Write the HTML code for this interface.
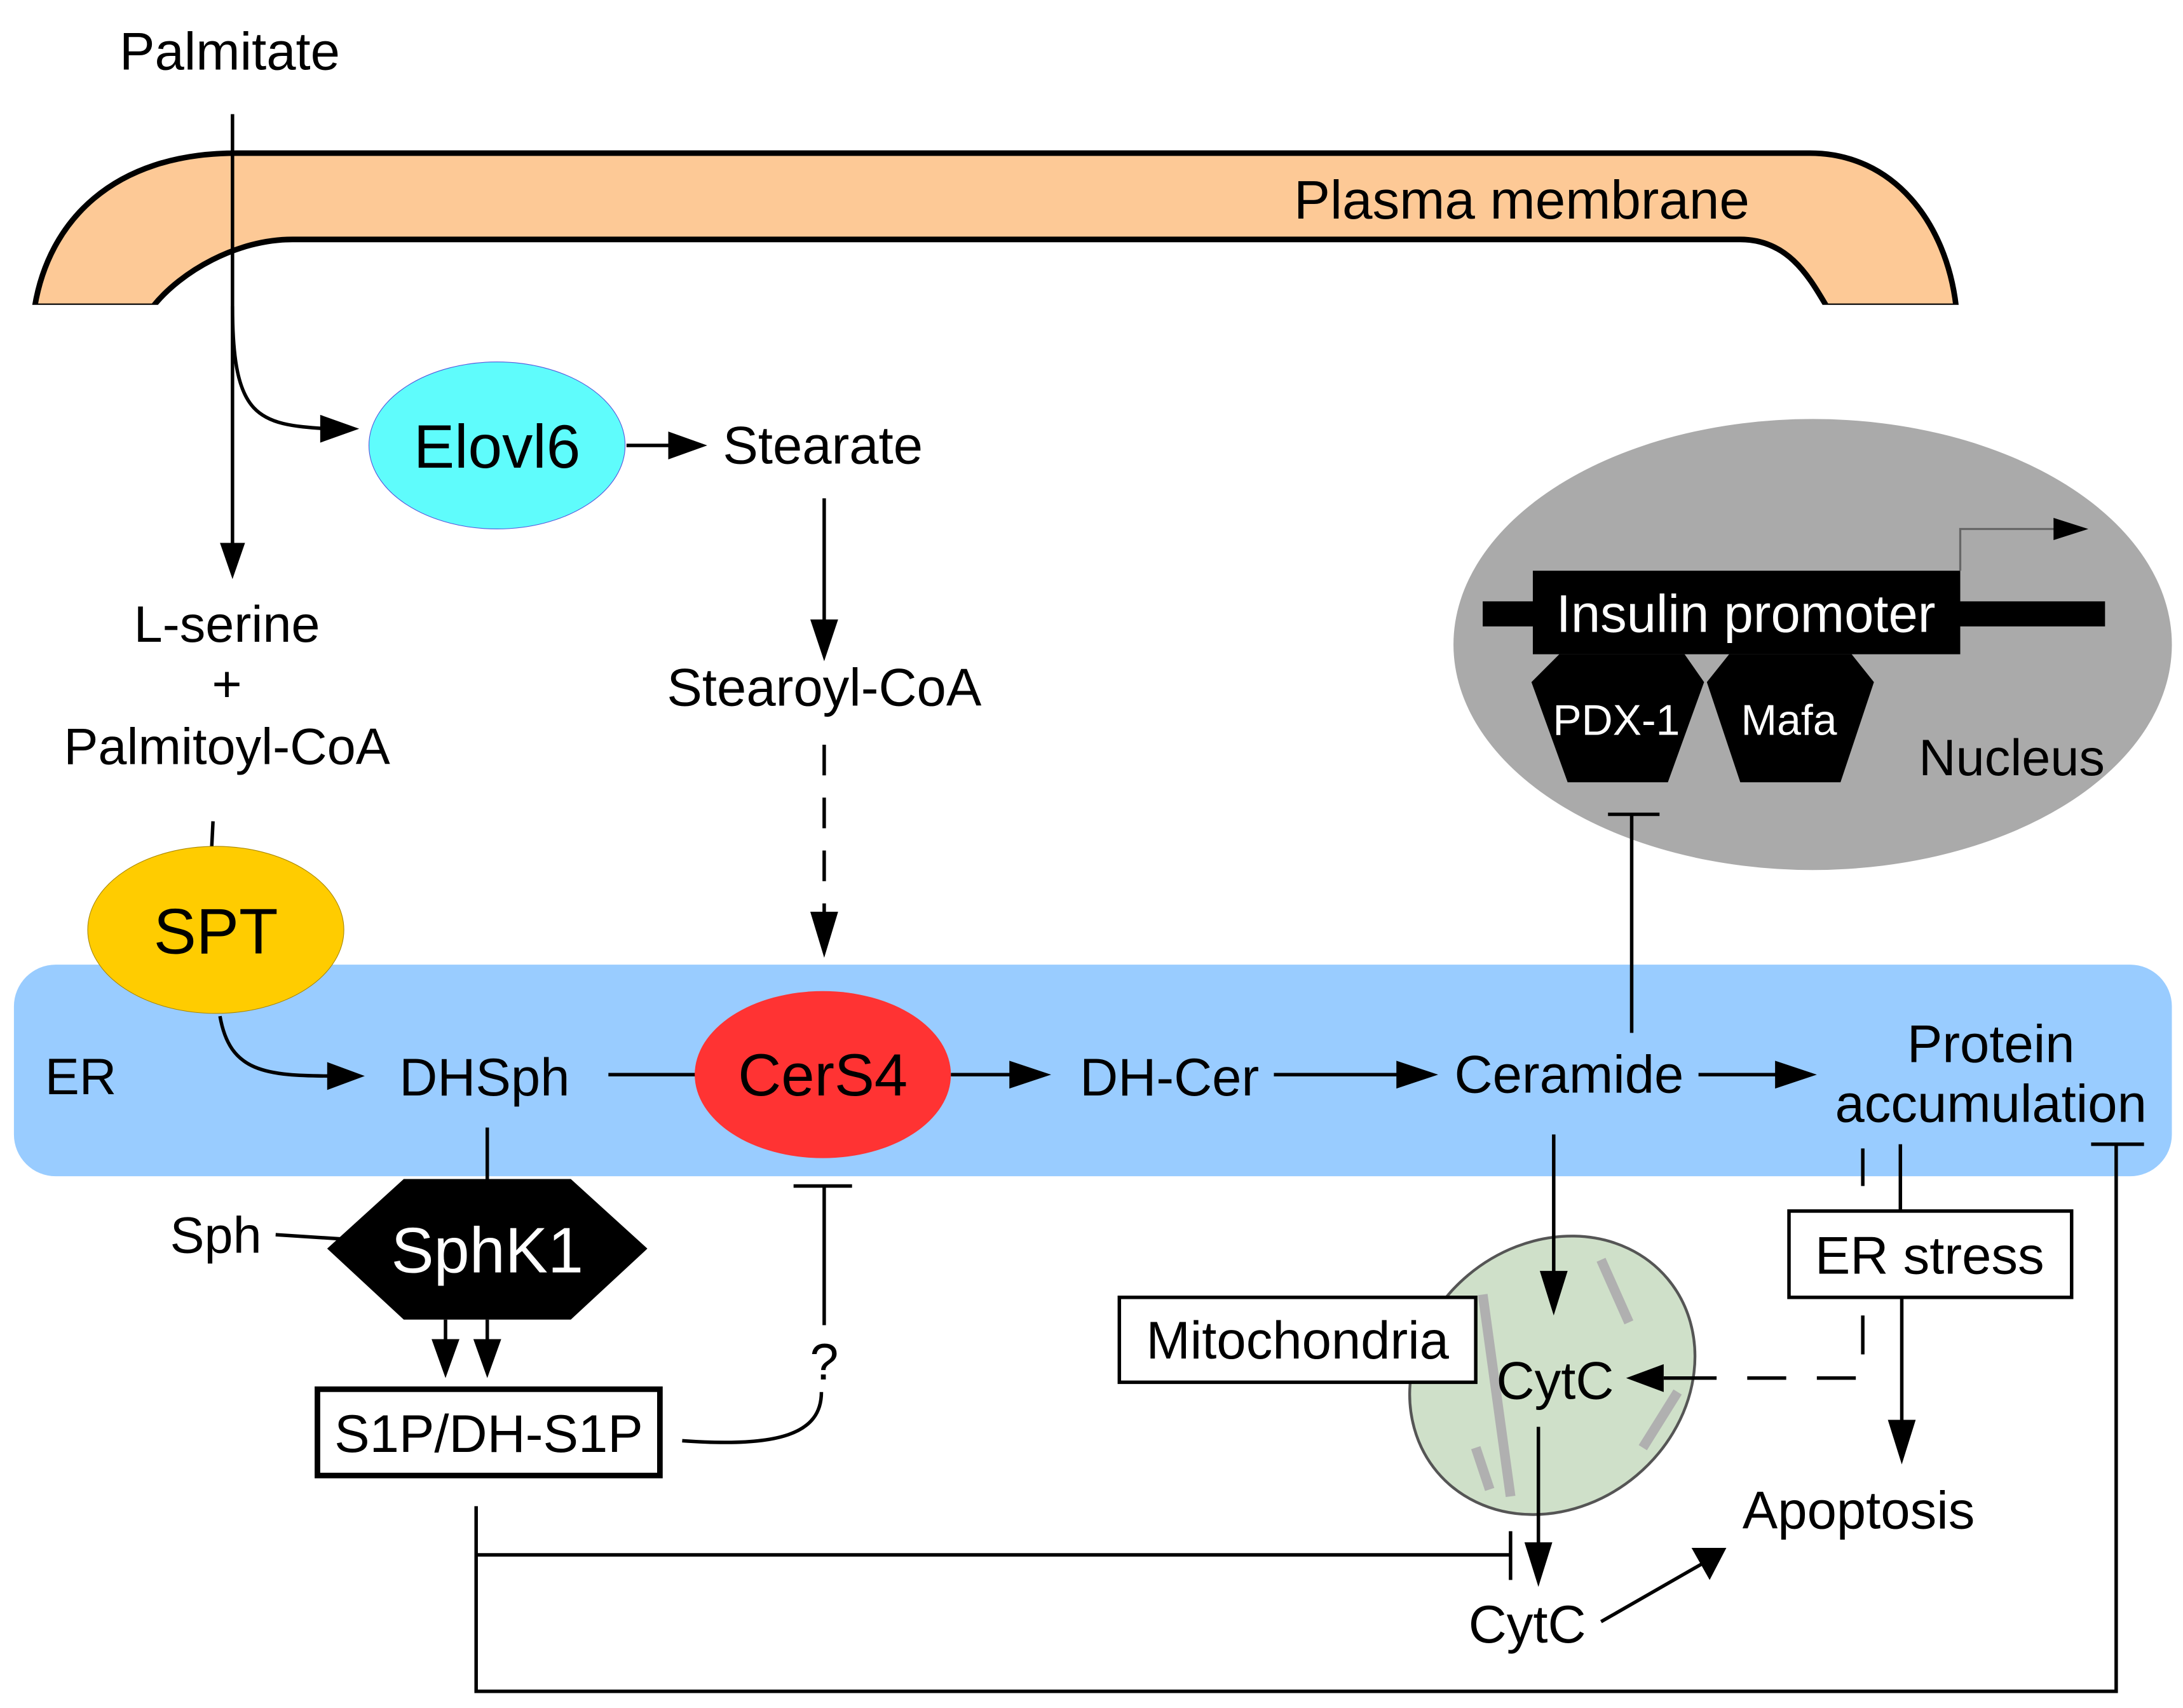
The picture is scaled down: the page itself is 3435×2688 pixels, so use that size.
<!DOCTYPE html>
<html><head><meta charset="utf-8"><style>
html,body{margin:0;padding:0;background:#fff;}
svg{display:block;}
text{font-family:"Liberation Sans",Arial,sans-serif;fill:#000;}
</style></head><body>
<svg width="3435" height="2688" viewBox="0 0 1568 1227" xmlns="http://www.w3.org/2000/svg">
<style>.l{stroke:#000;stroke-width:2.5;fill:none}</style>
<!-- plasma membrane -->
<path d="M25,220 C35,160 80,110 170,110 L1300,110 C1360,110 1398,160 1405,220 L1312,220 C1300,200 1285,172 1250,172 L210,172 C170,172 130,195 110,220 Z" fill="#fdc996" stroke="#000" stroke-width="4"/>
<rect x="20" y="219" width="1400" height="6" fill="#fff"/>
<text x="1093" y="157" font-size="39" text-anchor="middle">Plasma membrane</text>
<text x="165" y="50" font-size="38" text-anchor="middle">Palmitate</text>
<!-- ER -->
<rect x="10" y="693" width="1550" height="152" rx="30" fill="#99ccff"/>
<text x="58" y="786" font-size="37" text-anchor="middle">ER</text>
<!-- Nucleus -->
<ellipse cx="1302" cy="463" rx="258" ry="162" fill="#aaaaaa"/>
<rect x="1065" y="432" width="447" height="18" fill="#000"/>
<rect x="1101" y="410" width="307" height="60" fill="#000"/>
<text x="1254" y="454" font-size="38" text-anchor="middle" style="fill:#fff">Insulin promoter</text>
<path d="M1408,410 L1408,380 L1480,380" stroke="#666" stroke-width="1.5" fill="none"/>
<polygon points="1475,372 1500,380 1475,388" fill="#000"/>
<polygon points="1120,470 1210,470 1224,490 1198,562 1126,562 1100,490" fill="#000"/>
<polygon points="1242,470 1330,470 1346,490 1322,562 1250,562 1226,490" fill="#000"/>
<text x="1161" y="528" font-size="31" text-anchor="middle" style="fill:#fff">PDX-1</text>
<text x="1285" y="528" font-size="31" text-anchor="middle" style="fill:#fff">Mafa</text>
<text x="1445" y="557" font-size="37" text-anchor="middle">Nucleus</text>
<!-- palmitate path -->
<path class="l" d="M167,82 L167,395"/>
<polygon points="158,390 176,390 167,416" fill="#000"/>
<path class="l" d="M167,220 C167,300 185,305 235,308"/>
<polygon points="230,298 258,308 230,318" fill="#000"/>
<ellipse cx="357" cy="320" rx="92" ry="60" fill="#5ffcfc" stroke="#55d" stroke-width="0.5"/>
<text x="357" y="336" font-size="44" text-anchor="middle">Elovl6</text>
<path class="l" d="M450,320 L485,320"/>
<polygon points="480,310 508,320 480,330" fill="#000"/>
<text x="591" y="333" font-size="38" text-anchor="middle">Stearate</text>
<path class="l" d="M592,358 L592,450"/>
<polygon points="582,445 602,445 592,475" fill="#000"/>
<text x="592" y="507" font-size="38" text-anchor="middle">Stearoyl-CoA</text>
<path class="l" d="M592,535 L592,660" stroke-dasharray="22,16"/>
<polygon points="582,655 602,655 592,688" fill="#000"/>
<text x="163" y="461" font-size="37" text-anchor="middle">L-serine</text>
<text x="163" y="504" font-size="37" text-anchor="middle">+</text>
<text x="163" y="549" font-size="37" text-anchor="middle">Palmitoyl-CoA</text>
<path class="l" d="M153,590 L152,610"/>
<ellipse cx="155" cy="668" rx="92" ry="60" fill="#ffcc00" stroke="#a80" stroke-width="0.5"/>
<text x="155" y="685" font-size="46" text-anchor="middle">SPT</text>
<path class="l" d="M158,730 C165,770 190,773 240,773"/>
<polygon points="235,763 262,773 235,783" fill="#000"/>
<text x="348" y="787" font-size="38" text-anchor="middle">DHSph</text>
<path class="l" d="M437,772 L500,772"/>
<ellipse cx="591" cy="772" rx="92" ry="60" fill="#ff3333"/>
<text x="591" y="787" font-size="43" text-anchor="middle">CerS4</text>
<path class="l" d="M683,772 L730,772"/>
<polygon points="725,762 755,772 725,782" fill="#000"/>
<text x="840" y="787" font-size="38" text-anchor="middle">DH-Cer</text>
<path class="l" d="M915,772 L1008,772"/>
<polygon points="1003,762 1033,772 1003,782" fill="#000"/>
<text x="1127" y="785" font-size="38" text-anchor="middle">Ceramide</text>
<path class="l" d="M1220,772 L1280,772"/>
<polygon points="1275,762 1305,772 1275,782" fill="#000"/>
<text x="1430" y="763" font-size="38" text-anchor="middle">Protein</text>
<text x="1430" y="806" font-size="38" text-anchor="middle">accumulation</text>
<path class="l" d="M1172,742 L1172,585 M1155,585 L1192,585"/>
<!-- SphK1 -->
<path class="l" d="M350,810 L350,847"/>
<polygon points="235,897 290,847 410,847 465,897 410,948 290,948" fill="#000"/>
<text x="350" y="914" font-size="46" text-anchor="middle" style="fill:#fff">SphK1</text>
<text x="155" y="900" font-size="37" text-anchor="middle">Sph</text>
<path class="l" d="M198,887 L245,890"/>
<path class="l" d="M320,948 L320,965 M350,948 L350,965"/>
<polygon points="310,962 330,962 320,990" fill="#000"/>
<polygon points="340,962 360,962 350,990" fill="#000"/>
<rect x="228" y="998" width="246" height="62" fill="#fff" stroke="#000" stroke-width="4"/>
<text x="351" y="1043" font-size="38" text-anchor="middle">S1P/DH-S1P</text>
<path class="l" d="M490,1035 C560,1040 590,1030 590,1000"/>
<text x="592" y="991" font-size="37" text-anchor="middle">?</text>
<path class="l" d="M592,952 L592,852 M570,852 L612,852"/>
<!-- Mitochondria -->
<ellipse cx="1115" cy="988" rx="108" ry="94" transform="rotate(-40 1115 988)" fill="#cfe0c9" stroke="#555" stroke-width="2"/>
<path d="M1065,930 L1085,1075 M1150,905 L1170,950 M1180,1040 L1205,1000 M1060,1040 L1070,1070" stroke="#b0b0b0" stroke-width="7" fill="none"/>
<rect x="804" y="932" width="256" height="61" fill="#fff" stroke="#000" stroke-width="2.5"/>
<text x="932" y="976" font-size="38" text-anchor="middle">Mitochondria</text>
<text x="1117" y="1005" font-size="38" text-anchor="middle">CytC</text>
<path class="l" d="M1116,815 L1116,918"/>
<polygon points="1106,913 1126,913 1116,945" fill="#000"/>
<!-- ER stress -->
<rect x="1285" y="870" width="203" height="62" fill="#fff" stroke="#000" stroke-width="2.5"/>
<text x="1386" y="915" font-size="38" text-anchor="middle">ER stress</text>
<path class="l" d="M1338,825 L1338,852 M1365,822 L1365,870"/>
<path class="l" d="M1338,945 L1338,990 L1210,990" stroke-dasharray="28,22"/>
<polygon points="1195,980 1195,1000 1168,990" fill="#000"/>
<path class="l" d="M1195,990 L1215,990"/>
<path class="l" d="M1366,932 L1366,1025"/>
<polygon points="1356,1020 1376,1020 1366,1052" fill="#000"/>
<text x="1335" y="1098" font-size="38" text-anchor="middle">Apoptosis</text>
<path class="l" d="M1105,1025 L1105,1112"/>
<polygon points="1095,1108 1115,1108 1105,1140" fill="#000"/>
<text x="1097" y="1180" font-size="38" text-anchor="middle">CytC</text>
<path class="l" d="M1150,1165 L1225,1122"/>
<polygon points="1215,1112 1240,1112 1228,1135" fill="#000"/>
<path class="l" d="M342,1082 L342,1215 L1520,1215 L1520,822 M1502,822 L1540,822"/>
<path class="l" d="M342,1117 L1085,1117 M1085,1100 L1085,1135"/>
</svg>
</body></html>
